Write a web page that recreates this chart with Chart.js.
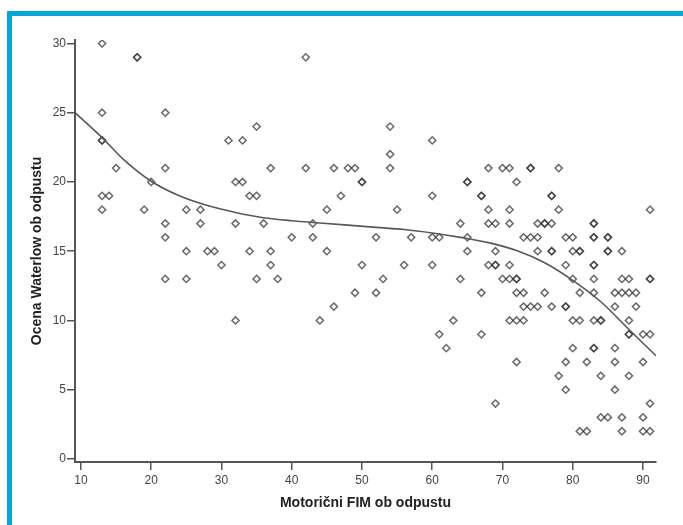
<!DOCTYPE html>
<html lang="sl">
<head>
    <meta charset="UTF-8">
    <title>Motorični FIM in ocena Waterlow ob odpustu</title>
    <script src="https://cdn.jsdelivr.net/npm/chart.js"></script>
    <style>
        body { margin: 0; background: #fff; }
        #wrap { position: relative; width: 683px; height: 525px; overflow: hidden; }
        #frame {
            position: absolute; left: 7px; top: 11px; right: -10px; bottom: -10px;
            border-top: 5px solid #05a6d6; border-left: 5px solid #05a6d6;
        }
        canvas { position: absolute; left: 0; top: 0; }
    </style>
</head>
<body>
<div id="wrap">
    <canvas id="scatter" width="683" height="525"></canvas>
    <div id="frame"></div>
</div>

<script>
    // Waterlow score levels and the motor FIM values observed at each level
    const scoreLevels = [30, 29, 25, 24, 23, 22, 21, 20, 19, 18, 17, 16, 15, 14, 13, 12, 11, 10, 9, 8, 7, 6, 5, 4, 3, 2];
    const fimAtScore = [
        [13],
        [18, 18, 42],
        [13, 22],
        [35, 54],
        [13, 13, 31, 33, 60],
        [54],
        [15, 22, 37, 42, 46, 48, 49, 54, 68, 70, 71, 74, 74, 78],
        [20, 32, 33, 50, 50, 65, 65, 72],
        [13, 14, 34, 35, 47, 60, 67, 67, 77, 77],
        [13, 19, 25, 27, 45, 55, 68, 71, 78, 91],
        [22, 27, 32, 36, 43, 64, 68, 69, 71, 75, 76, 76, 77, 83, 83],
        [22, 40, 43, 52, 57, 60, 61, 65, 73, 74, 75, 79, 80, 83, 83, 85, 85],
        [25, 28, 29, 34, 37, 45, 65, 69, 75, 77, 77, 80, 81, 81, 85, 85, 87],
        [30, 37, 50, 56, 60, 68, 69, 69, 71, 79, 83, 83],
        [22, 25, 35, 38, 53, 64, 70, 71, 72, 72, 80, 83, 87, 88, 91, 91],
        [49, 52, 67, 72, 73, 76, 81, 83, 86, 87, 88, 89],
        [46, 73, 74, 75, 77, 79, 79, 86, 89],
        [32, 44, 63, 71, 72, 73, 80, 81, 83, 84, 84, 88],
        [61, 67, 88, 88, 90, 91],
        [62, 80, 83, 83, 86],
        [72, 79, 82, 86, 90],
        [78, 84, 88],
        [79, 86],
        [69, 91],
        [84, 85, 87, 90],
        [81, 82, 87, 90, 91]
    ];

    // fitted (cubic) curve
    const fitX = [9.15, 13, 16, 20, 24, 28, 32, 36, 40, 44, 48, 52, 56, 60, 64, 68, 72, 76, 80, 84, 88, 91.85];
    const fitY = [25.0, 23.2, 21.65, 20.05, 19.0, 18.3, 17.8, 17.42, 17.2, 17.04, 16.88, 16.72, 16.57, 16.32, 16.0, 15.62, 15.05, 14.17, 12.9, 11.35, 9.35, 7.45];

    const xTicks = [10, 20, 30, 40, 50, 60, 70, 80, 90];
    const yTicks = [0, 5, 10, 15, 20, 25, 30];

    const points = [];
    scoreLevels.forEach((score, i) => {
        fimAtScore[i].forEach(fim => points.push({ x: fim, y: score }));
    });
    const fitLine = fitX.map((x, i) => ({ x: x, y: fitY[i] }));

    const axisColor = '#555';
    const tickFont = { family: 'Liberation Sans, Arial, sans-serif', size: 12 };
    const titleFont = { family: 'Liberation Sans, Arial, sans-serif', size: 14, weight: 'bold' };

    new Chart(document.getElementById('scatter'), {
        type: 'scatter',
        data: {
            datasets: [
                {
                    label: 'Opazovane vrednosti',
                    data: points,
                    pointStyle: 'rectRot',
                    pointRadius: 3.6,
                    pointBorderWidth: 1.5,
                    borderColor: 'rgba(55, 55, 55, 0.75)',
                    backgroundColor: 'rgba(0, 0, 0, 0)',
                    order: 2
                },
                {
                    label: 'Kubična krivulja',
                    type: 'line',
                    data: fitLine,
                    borderColor: '#585858',
                    borderWidth: 1.6,
                    pointRadius: 0,
                    fill: false,
                    cubicInterpolationMode: 'monotone',
                    order: 1
                }
            ]
        },
        options: {
            responsive: false,
            animation: false,
            layout: { padding: { left: 0, top: 40, right: 27, bottom: 0 } },
            plugins: {
                legend: { display: false },
                tooltip: { enabled: false }
            },
            scales: {
                x: {
                    type: 'linear',
                    min: 9.15,
                    max: 91.85,
                    afterBuildTicks: scale => { scale.ticks = xTicks.map(v => ({ value: v })); },
                    afterFit: scale => { scale.height = 63; },
                    border: { display: true, color: axisColor, width: 2 },
                    grid: { drawOnChartArea: false, drawTicks: true, tickLength: 8, color: axisColor, lineWidth: 1.5 },
                    ticks: { font: tickFont, color: '#444', padding: 3, maxRotation: 0 },
                    title: { display: true, text: 'Motorični FIM ob odpustu', font: titleFont, color: '#222', padding: { top: 0, bottom: 13 } }
                },
                y: {
                    type: 'linear',
                    min: -0.22,
                    max: 30.25,
                    afterBuildTicks: scale => { scale.ticks = yTicks.map(v => ({ value: v })); },
                    afterFit: scale => { scale.width = 75; },
                    border: { display: true, color: axisColor, width: 2 },
                    grid: { drawOnChartArea: false, drawTicks: true, tickLength: 8, color: axisColor, lineWidth: 1.5 },
                    ticks: { font: tickFont, color: '#444', padding: 1 },
                    title: { display: true, text: 'Ocena Waterlow ob odpustu', font: titleFont, color: '#222', padding: { top: 29, bottom: 0 } }
                }
            }
        }
    });
</script>
</body>
</html>
